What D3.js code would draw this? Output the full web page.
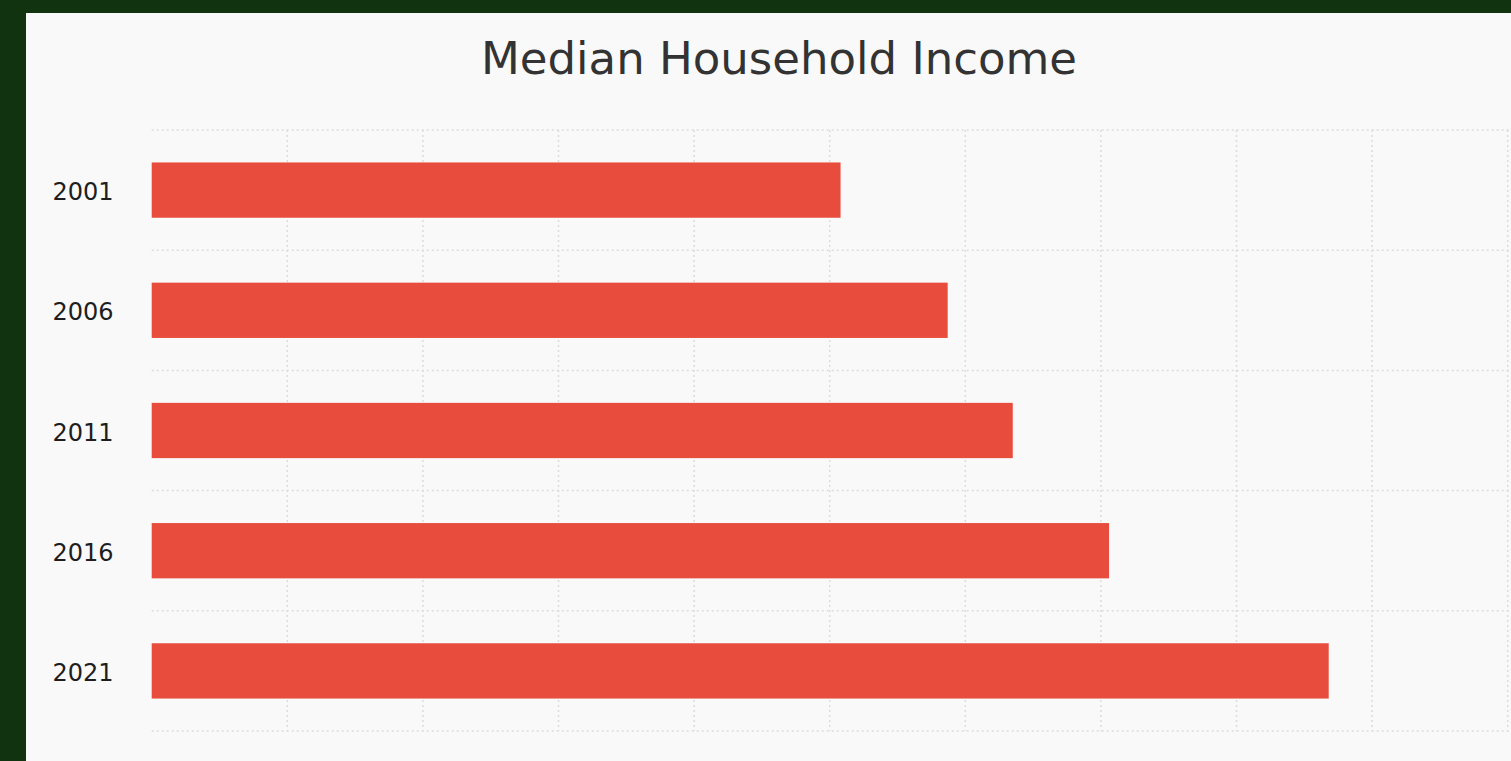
<!DOCTYPE html>
<html>
<head>
<meta charset="utf-8">
<script src="https://cdn.jsdelivr.net/npm/d3@7"></script>
<style>
  html, body { margin: 0; padding: 0; background: #12330f; }
  svg { display: block; }
</style>
</head>
<body>
<svg id="chart" width="1511" height="761"></svg>
<script>
// Median household income by census year
const years = ["2001", "2006", "2011", "2016", "2021"];
const incomes = [50800, 58700, 63500, 70600, 86800];
const xTicks = [0, 10000, 20000, 30000, 40000, 50000, 60000, 70000, 80000, 90000, 100000];
const titleText = "Median Household Income";

const data = years.map((y, i) => ({ year: y, value: incomes[i] }));

const W = 1511, H = 761;
const svg = d3.select("#chart");

// background panel
svg.append("rect")
  .attr("x", 26).attr("y", 13)
  .attr("width", W - 26).attr("height", H - 13)
  .attr("fill", "#f9f9f9");

const x = d3.scaleLinear().domain([0, 100000]).range([151.7, 1507.7]);
const y = d3.scaleBand().domain(years).range([130, 731])
  .paddingInner(0.54).paddingOuter(0.27);

const step = y.step();
const gridColor = "#dcdcdc";

// vertical grid
svg.append("g").selectAll("line")
  .data(xTicks.slice(1))
  .join("line")
  .attr("x1", d => x(d)).attr("x2", d => x(d))
  .attr("y1", 130).attr("y2", 731)
  .attr("stroke", gridColor)
  .attr("stroke-width", 1.5)
  .attr("stroke-dasharray", "2,3");

// horizontal grid at band boundaries
const hLines = years.map(yr => y(yr) - step * y.paddingInner() / 2).concat([y.range()[1]]);
svg.append("g").selectAll("line")
  .data(hLines)
  .join("line")
  .attr("x1", x(0)).attr("x2", 1511)
  .attr("y1", d => d).attr("y2", d => d)
  .attr("stroke", gridColor)
  .attr("stroke-width", 1.5)
  .attr("stroke-dasharray", "2,3");

// bars
svg.append("g").selectAll("rect")
  .data(data)
  .join("rect")
  .attr("x", x(0))
  .attr("y", d => y(d.year))
  .attr("width", d => x(d.value) - x(0))
  .attr("height", y.bandwidth())
  .attr("fill", "#e74c3c");

// year labels
const yAxis = d3.axisLeft(y).tickSize(0).tickPadding(0);
const gy = svg.append("g")
  .attr("transform", "translate(113.5,0)")
  .call(yAxis);
gy.select(".domain").remove();
gy.selectAll("text")
  .attr("font-family", "DejaVu Sans, sans-serif")
  .attr("font-size", 24)
  .attr("fill", "#1e1e1e")
  .attr("dy", "0.42em");

// title
svg.append("text")
  .attr("x", 779).attr("y", 73.5)
  .attr("text-anchor", "middle")
  .attr("font-family", "DejaVu Sans, sans-serif")
  .attr("font-size", 45)
  .attr("fill", "#333")
  .text(titleText);
</script>
</body>
</html>
